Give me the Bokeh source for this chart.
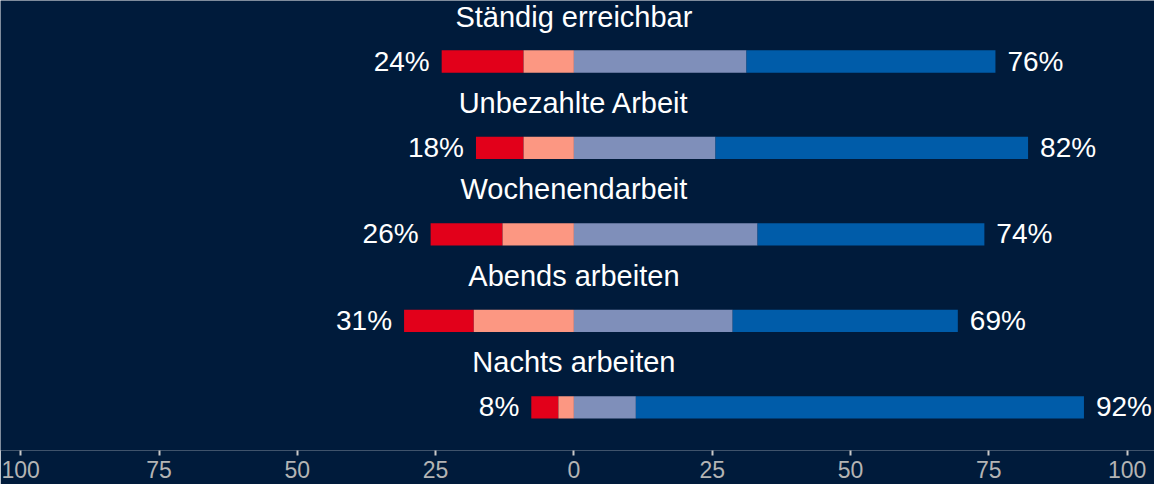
from bokeh.plotting import figure
from bokeh.models import ColumnDataSource, FixedTicker, Range1d
from bokeh.core.properties import value
from bokeh.embed import file_html
from bokeh.resources import INLINE

# ---------------- data ----------------
categories = ["Ständig erreichbar", "Unbezahlte Arbeit", "Wochenendarbeit",
              "Abends arbeiten", "Nachts arbeiten"]
neg_strong = [14.8, 8.6, 13.0, 12.6, 4.9]     # red
neg_mild = [9.1, 9.1, 12.9, 18.1, 2.8]        # salmon
pos_mild = [31.2, 25.6, 33.2, 28.7, 11.2]     # light blue-grey
pos_strong = [45.0, 56.5, 41.0, 40.7, 81.0]   # blue
neg_labels = ["24%", "18%", "26%", "31%", "8%"]
pos_labels = ["76%", "82%", "74%", "69%", "92%"]
tick_values = [-100, -75, -50, -25, 0, 25, 50, 75, 100]
tick_labels = ["100", "75", "50", "25", "0", "25", "50", "75", "100"]

BG = "#001b3b"
RED = "#e2001a"
SALMON = "#fc9782"
LIGHT = "#7f8fba"
BLUE = "#005ca9"
FONT = "Liberation Sans"

n = len(categories)
ys = [-i for i in range(n)]

# ---------------- layout ----------------
FW, FH = 1154, 450
xs_per_unit = 5.532
zero_px = 573.4
x_start = -zero_px / xs_per_unit
x_end = x_start + FW / xs_per_unit
ypx = 86.45
y_end = 61.0 / ypx
y_start = y_end - FH / ypx

p = figure(frame_width=FW, frame_height=FH, output_backend="svg",
           toolbar_location=None, x_range=Range1d(x_start, x_end),
           y_range=Range1d(y_start, y_end), min_border=0,
           min_border_bottom=34,
           background_fill_color=BG, border_fill_color=BG)
p.outline_line_color = None
p.xgrid.visible = False
p.ygrid.visible = False
p.yaxis.visible = False

ax = p.xaxis[0]
ax.ticker = FixedTicker(ticks=tick_values)
ax.major_label_overrides = {v: s for v, s in zip(tick_values, tick_labels)}
ax.axis_line_color = None
ax.minor_tick_line_color = None
ax.major_tick_in = 0
ax.major_tick_out = 5
ax.major_tick_line_color = "#c8c8c8"
ax.major_tick_line_width = 2
ax.major_label_standoff = 5
ax.major_label_text_color = "#b4b4b4"
ax.major_label_text_font = FONT
ax.major_label_text_font_size = "23px"

# stacked diverging bars
l1 = [-(a + b) for a, b in zip(neg_strong, neg_mild)]
r1 = [-b for b in neg_mild]
l2 = r1
r2 = [0] * n
l3 = [0] * n
r3 = pos_mild
l4 = pos_mild
r4 = [a + b for a, b in zip(pos_mild, pos_strong)]

H = 22.3 / ypx
for left, right, col in [(l1, r1, RED), (l2, r2, SALMON), (l3, r3, LIGHT), (l4, r4, BLUE)]:
    p.hbar(y=ys, left=left, right=right, height=H, fill_color=col, line_color=None)

src = ColumnDataSource(dict(y=ys, cat=categories, nl=neg_labels, pl=pos_labels,
                            lx=l1, rx=r4, zx=[0] * n))

p.text(x="zx", y="y", text="cat", source=src, text_color="white",
       text_font=value(FONT), text_font_size="29px", text_align="center",
       text_baseline="alphabetic", y_offset=-45)
p.text(x="lx", y="y", text="nl", source=src, text_color="white",
       text_font=value(FONT), text_font_size="28px", text_align="right",
       text_baseline="alphabetic", x_offset=-12, y_offset=-0.5)
p.text(x="rx", y="y", text="pl", source=src, text_color="white",
       text_font=value(FONT), text_font_size="28px", text_align="left",
       text_baseline="alphabetic", x_offset=12, y_offset=-0.5)

open("out.html", "w").write(file_html(p, INLINE))
